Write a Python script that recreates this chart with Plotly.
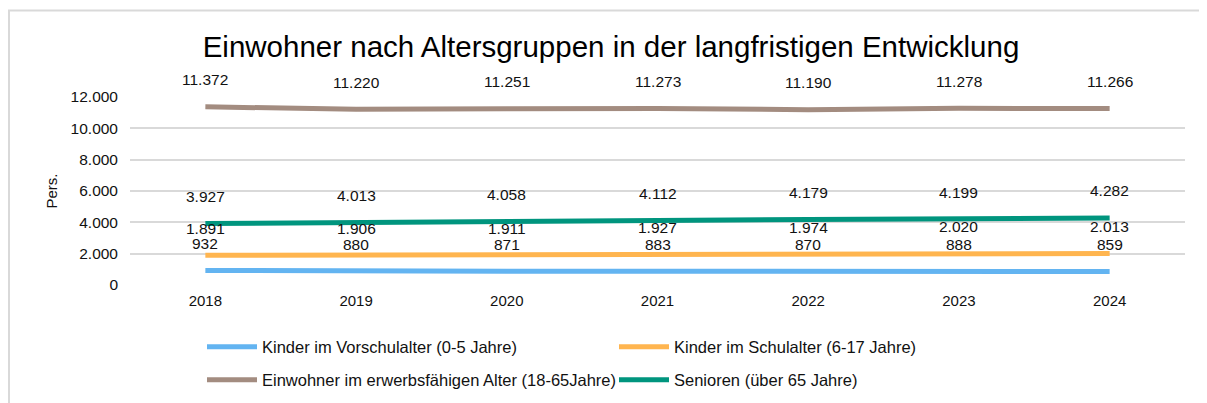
import plotly.graph_objects as go

years = ["2018", "2019", "2020", "2021", "2022", "2023", "2024"]
vorschul = [932, 880, 871, 883, 870, 888, 859]
schul = [1891, 1906, 1911, 1927, 1974, 2020, 2013]
erwerb = [11372, 11220, 11251, 11273, 11190, 11278, 11266]
senioren = [3927, 4013, 4058, 4112, 4179, 4199, 4282]

series = [
    ("Kinder im Vorschulalter (0-5 Jahre)", vorschul, "#63B4F1", "legend"),
    ("Kinder im Schulalter (6-17 Jahre)", schul, "#FFB54F", "legend"),
    ("Einwohner im erwerbsfähigen Alter (18-65Jahre)", erwerb, "#A38C80", "legend2"),
    ("Senioren (über 65 Jahre)", senioren, "#00957E", "legend2"),
]

# page has an 8px body margin; figure coordinates are page - 8
W, H = 1199, 395
L, R, T, B = 122, 22, 89, 118
FONT = "Liberation Sans, Arial, sans-serif"

def de(v):
    return f"{v:,}".replace(",", ".")

fig = go.Figure()
annotations = []
for name, vals, color, lg in series:
    fig.add_trace(go.Scatter(
        x=years, y=vals, name=name, mode="lines",
        line=dict(color=color, width=5), legend=lg,
    ))
    for i, v in enumerate(vals):
        annotations.append(dict(
            x=i, y=v, xref="x", yref="y", text=de(v), showarrow=False, yshift=27,
            yanchor="middle", xanchor="center",
            font=dict(family=FONT, size=15.5, color="#111"),
        ))

pw = W - L - R
ph = H - T - B

legend_common = dict(
    orientation="h", xanchor="left", yanchor="middle",
    entrywidth=347, entrywidthmode="pixels",
    font=dict(family=FONT, size=16.5, color="#111"),
    bgcolor="rgba(0,0,0,0)", itemwidth=50,
)

fig.update_layout(
    width=W, height=H,
    margin=dict(l=L, r=R, t=T, b=B, pad=0, autoexpand=False),
    paper_bgcolor="white", plot_bgcolor="white",
    separators=",.",
    font=dict(family=FONT, size=15, color="#111"),
    title=dict(
        text="Einwohner nach Altersgruppen in der langfristigen Entwicklung",
        x=603 / W, xanchor="center", y=1 - 39 / H, yanchor="middle",
        font=dict(family=FONT, size=29.5, color="#000"),
    ),
    xaxis=dict(
        type="category", range=[-0.5, 6.5], showgrid=False, zeroline=False, showline=False,
        tickfont=dict(family=FONT, size=15, color="#111"),
        ticklabelstandoff=5,
    ),
    yaxis=dict(
        range=[0, 12000], tickvals=[0, 2000, 4000, 6000, 8000, 10000, 12000],
        tickformat=",d", showgrid=True, gridcolor="#D9D9D9", gridwidth=1.5,
        zeroline=False, showline=False,
        tickfont=dict(family=FONT, size=15.5, color="#111"),
        ticklabelstandoff=11,
        title=dict(text="Pers.", standoff=9, font=dict(family=FONT, size=15, color="#111")),
    ),
    showlegend=True,
    legend=dict(x=(194 - L) / pw, y=(H - B - 339) / ph, **legend_common),
    legend2=dict(x=(194 - L) / pw, y=(H - B - 372) / ph, **legend_common),
    annotations=annotations,
    shapes=[dict(
        type="rect", xref="paper", yref="paper", layer="below",
        x0=(1 - L) / pw, x1=(1210 - L) / pw,
        y0=(H - B - 410) / ph, y1=(H - B - 2.5) / ph,
        line=dict(color="#D9D9D9", width=2), fillcolor="rgba(0,0,0,0)",
    )],
)

fig.write_html("out.html")
